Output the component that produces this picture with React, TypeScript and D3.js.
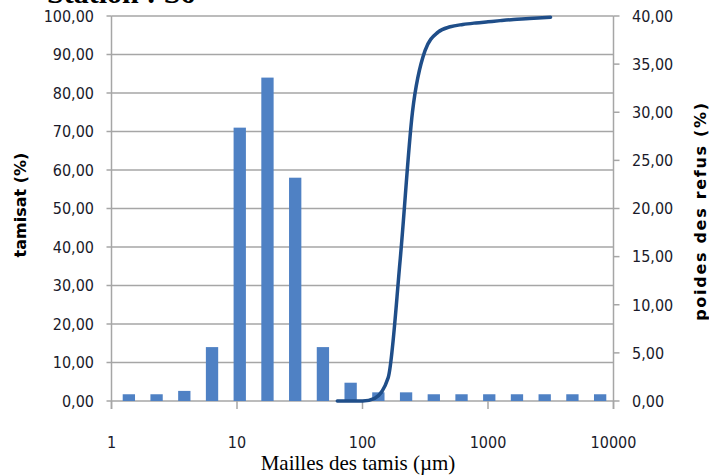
import React from "react";
import * as d3 from "d3";

const barCategories = ["63", "80", "100", "125", "160", "200", "250", "315", "400", "500", "630", "800", "1000", "1250", "1600", "2000", "2500", "3150"];
const refusValues = [0.7, 0.7, 1.05, 5.6, 28.4, 33.6, 23.2, 5.6, 1.9, 0.9, 0.9, 0.7, 0.7, 0.7, 0.7, 0.7, 0.7, 0.7];

const lineSieves = [63, 80, 100, 125, 160, 200, 250, 315, 400, 500, 630, 800, 1000, 1250, 1600, 2000, 2500, 3150];
const tamisatValues = [0, 0, 0, 0.7, 6, 37, 75, 91, 95.8, 97.2, 97.8, 98.2, 98.5, 98.8, 99.1, 99.3, 99.5, 99.7];

const xTicks = [1, 10, 100, 1000, 10000];
const leftTicks = [0, 10, 20, 30, 40, 50, 60, 70, 80, 90, 100];
const rightTicks = [0, 5, 10, 15, 20, 25, 30, 35, 40];

const fmt = (v: number) => v.toFixed(2).replace(".", ",");

export default function App() {
  const W = 709, H = 475;
  const plotL = 111.5, plotR = 613.5, plotT = 16, plotB = 401;
  const x = d3.scaleLog().domain([1, 10000]).range([plotL, plotR]);
  const yL = d3.scaleLinear().domain([0, 100]).range([plotB, plotT]);
  const yR = d3.scaleLinear().domain([0, 40]).range([plotB, plotT]);
  const xb = d3.scaleBand<string>().domain(barCategories).range([115, 614]).paddingInner(0.556).paddingOuter(0.278);

  const line = d3
    .line<number>()
    .x((_, i) => x(lineSieves[i]))
    .y((d) => yL(d))
    .curve(d3.curveMonotoneX);

  const tickFont = "'DejaVu Sans Condensed', 'DejaVu Sans', sans-serif";
  const gridColor = "#a6a6a6";
  const textColor = "#1a1a2a";

  return (
    <svg width={W} height={H} style={{ position: "absolute", left: 0, top: 0, background: "#fff" }}>
      <text x={47} y={3} fontFamily="'Liberation Serif', serif" fontWeight="bold" fontSize={30} fill="#000">
        Station : S6
      </text>
      {/* gridlines */}
      {leftTicks.map((t) => (
        <line key={"g" + t} x1={plotL} x2={plotR} y1={yL(t)} y2={yL(t)} stroke={gridColor} strokeWidth={1.5} />
      ))}
      {/* left axis */}
      <line x1={plotL} x2={plotL} y1={plotT} y2={plotB + 8} stroke={gridColor} strokeWidth={1.5} />
      {leftTicks.map((t) => (
        <g key={"l" + t}>
          <line x1={plotL - 5} x2={plotL} y1={yL(t)} y2={yL(t)} stroke={gridColor} strokeWidth={1.5} />
          <text x={94} y={yL(t)} dy="0.36em" textAnchor="end" fontFamily={tickFont} fontStretch="condensed" fontSize={16} fill={textColor}>
            {fmt(t)}
          </text>
        </g>
      ))}
      {/* right axis */}
      <line x1={plotR} x2={plotR} y1={plotT} y2={plotB + 8} stroke={gridColor} strokeWidth={1.5} />
      {rightTicks.map((t) => (
        <g key={"r" + t}>
          <line x1={plotR} x2={plotR + 6} y1={yR(t)} y2={yR(t)} stroke={gridColor} strokeWidth={1.5} />
          <text x={632} y={yR(t)} dy="0.36em" textAnchor="start" fontFamily={tickFont} fontStretch="condensed" fontSize={16} fill={textColor}>
            {fmt(t)}
          </text>
        </g>
      ))}
      {/* x axis ticks */}
      {xTicks.map((t) => (
        <g key={"x" + t}>
          <line x1={x(t)} x2={x(t)} y1={plotB} y2={plotB + 8} stroke={gridColor} strokeWidth={1.5} />
          <text x={x(t)} y={442} dy="0.36em" textAnchor="middle" fontFamily={tickFont} fontStretch="condensed" fontSize={16} fill={textColor}>
            {String(t)}
          </text>
        </g>
      ))}
      {/* bars */}
      {refusValues.map((v, i) => (
        <rect
          key={"b" + i}
          x={xb(barCategories[i])}
          y={yR(v)}
          width={xb.bandwidth()}
          height={plotB - yR(v)}
          fill="#4f81c4"
        />
      ))}
      {/* line */}
      <path d={line(tamisatValues) || ""} fill="none" stroke="#1f4e89" strokeWidth={3.5} strokeLinecap="round" strokeLinejoin="round" />
      {/* axis titles */}
      <text
        transform={`translate(26,205) rotate(-90)`}
        textAnchor="middle"
        fontFamily="'DejaVu Sans', sans-serif"
        fontWeight="bold"
        fontSize={16}
        fill="#000"
      >
        tamisat (%)
      </text>
      <text
        transform={`translate(706,211) rotate(-90)`}
        textAnchor="middle"
        fontFamily="'DejaVu Sans', sans-serif"
        fontWeight="bold"
        fontSize={16}
        letterSpacing={1.7}
        fill="#000"
      >
        poides des refus (%)
      </text>
      <text x={358} y={470} textAnchor="middle" fontFamily="'Liberation Serif', serif" fontSize={21} fill="#000">
        Mailles des tamis (µm)
      </text>
    </svg>
  );
}
